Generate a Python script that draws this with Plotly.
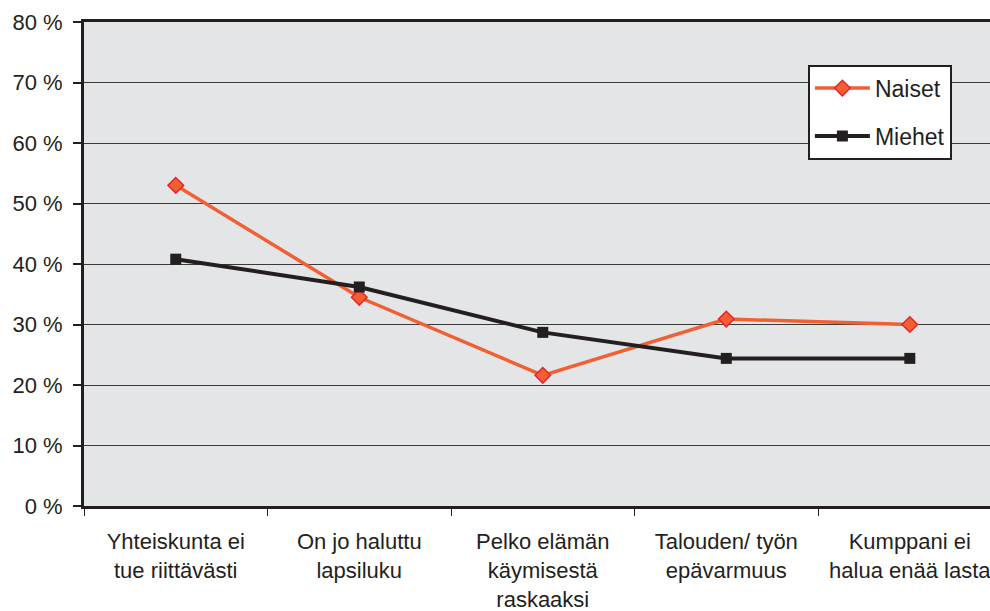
import plotly.graph_objects as go

categories = ["Yhteiskunta ei<br>tue riittävästi", "On jo haluttu<br>lapsiluku",
              "Pelko elämän<br>käymisestä<br>raskaaksi", "Talouden/ työn<br>epävarmuus",
              "Kumppani ei<br>halua enää lasta"]
naiset = [53.0, 34.5, 21.6, 30.9, 30.0]
miehet = [40.8, 36.2, 28.7, 24.4, 24.4]
y_ticks = [0, 10, 20, 30, 40, 50, 60, 70, 80]

fig = go.Figure()
fig.add_trace(go.Scatter(
    x=categories, y=naiset, name="Naiset", mode="lines+markers",
    line=dict(color="#F15F32", width=3.5),
    marker=dict(symbol="diamond", size=12, color="#F15F32", line=dict(color="#E8262A", width=1.5)),
    legendgroup="a"))
fig.add_trace(go.Scatter(
    x=categories, y=miehet, name="Miehet", mode="lines+markers",
    line=dict(color="#231F20", width=4),
    marker=dict(symbol="square", size=11, color="#231F20"),
    legendgroup="b"))

font_fam = "Liberation Sans, Arial, sans-serif"
fig.update_layout(
    width=990, height=611,
    margin=dict(l=84, r=0, t=22, b=105),
    paper_bgcolor="white", plot_bgcolor="#E4E5E7",
    font=dict(family=font_fam, size=22, color="#231F20"),
    showlegend=True,
    legend=dict(x=0.799, y=0.912, xanchor="left", yanchor="top",
                bgcolor="white", bordercolor="#231F20", borderwidth=2,
                font=dict(size=23, color="#231F20"), itemwidth=55,
                traceorder="grouped", tracegroupgap=15),
    xaxis=dict(type="category", range=[-0.5, 4.437],
               tickson="boundaries", ticks="outside", ticklen=7, tickcolor="#231F20", tickwidth=1,
               showgrid=False, showline=True, linecolor="#231F20", linewidth=3, mirror=True,
               zeroline=False, ticklabelstandoff=14, tickfont=dict(size=22)),
    yaxis=dict(range=[0, 80], tickmode="array", tickvals=y_ticks,
               ticktext=[f"{v} %" for v in y_ticks],
               ticks="outside", ticklen=8, tickcolor="#231F20", tickwidth=1.5,
               showgrid=True, gridcolor="#3a3a3a", gridwidth=1,
               showline=True, linecolor="#231F20", linewidth=3,
               zeroline=False, ticklabelstandoff=6, tickfont=dict(size=22)),
)
fig.write_html("out.html", config={"displayModeBar": False},
               post_script="document.body.style.margin='0';document.body.style.overflow='hidden';")
